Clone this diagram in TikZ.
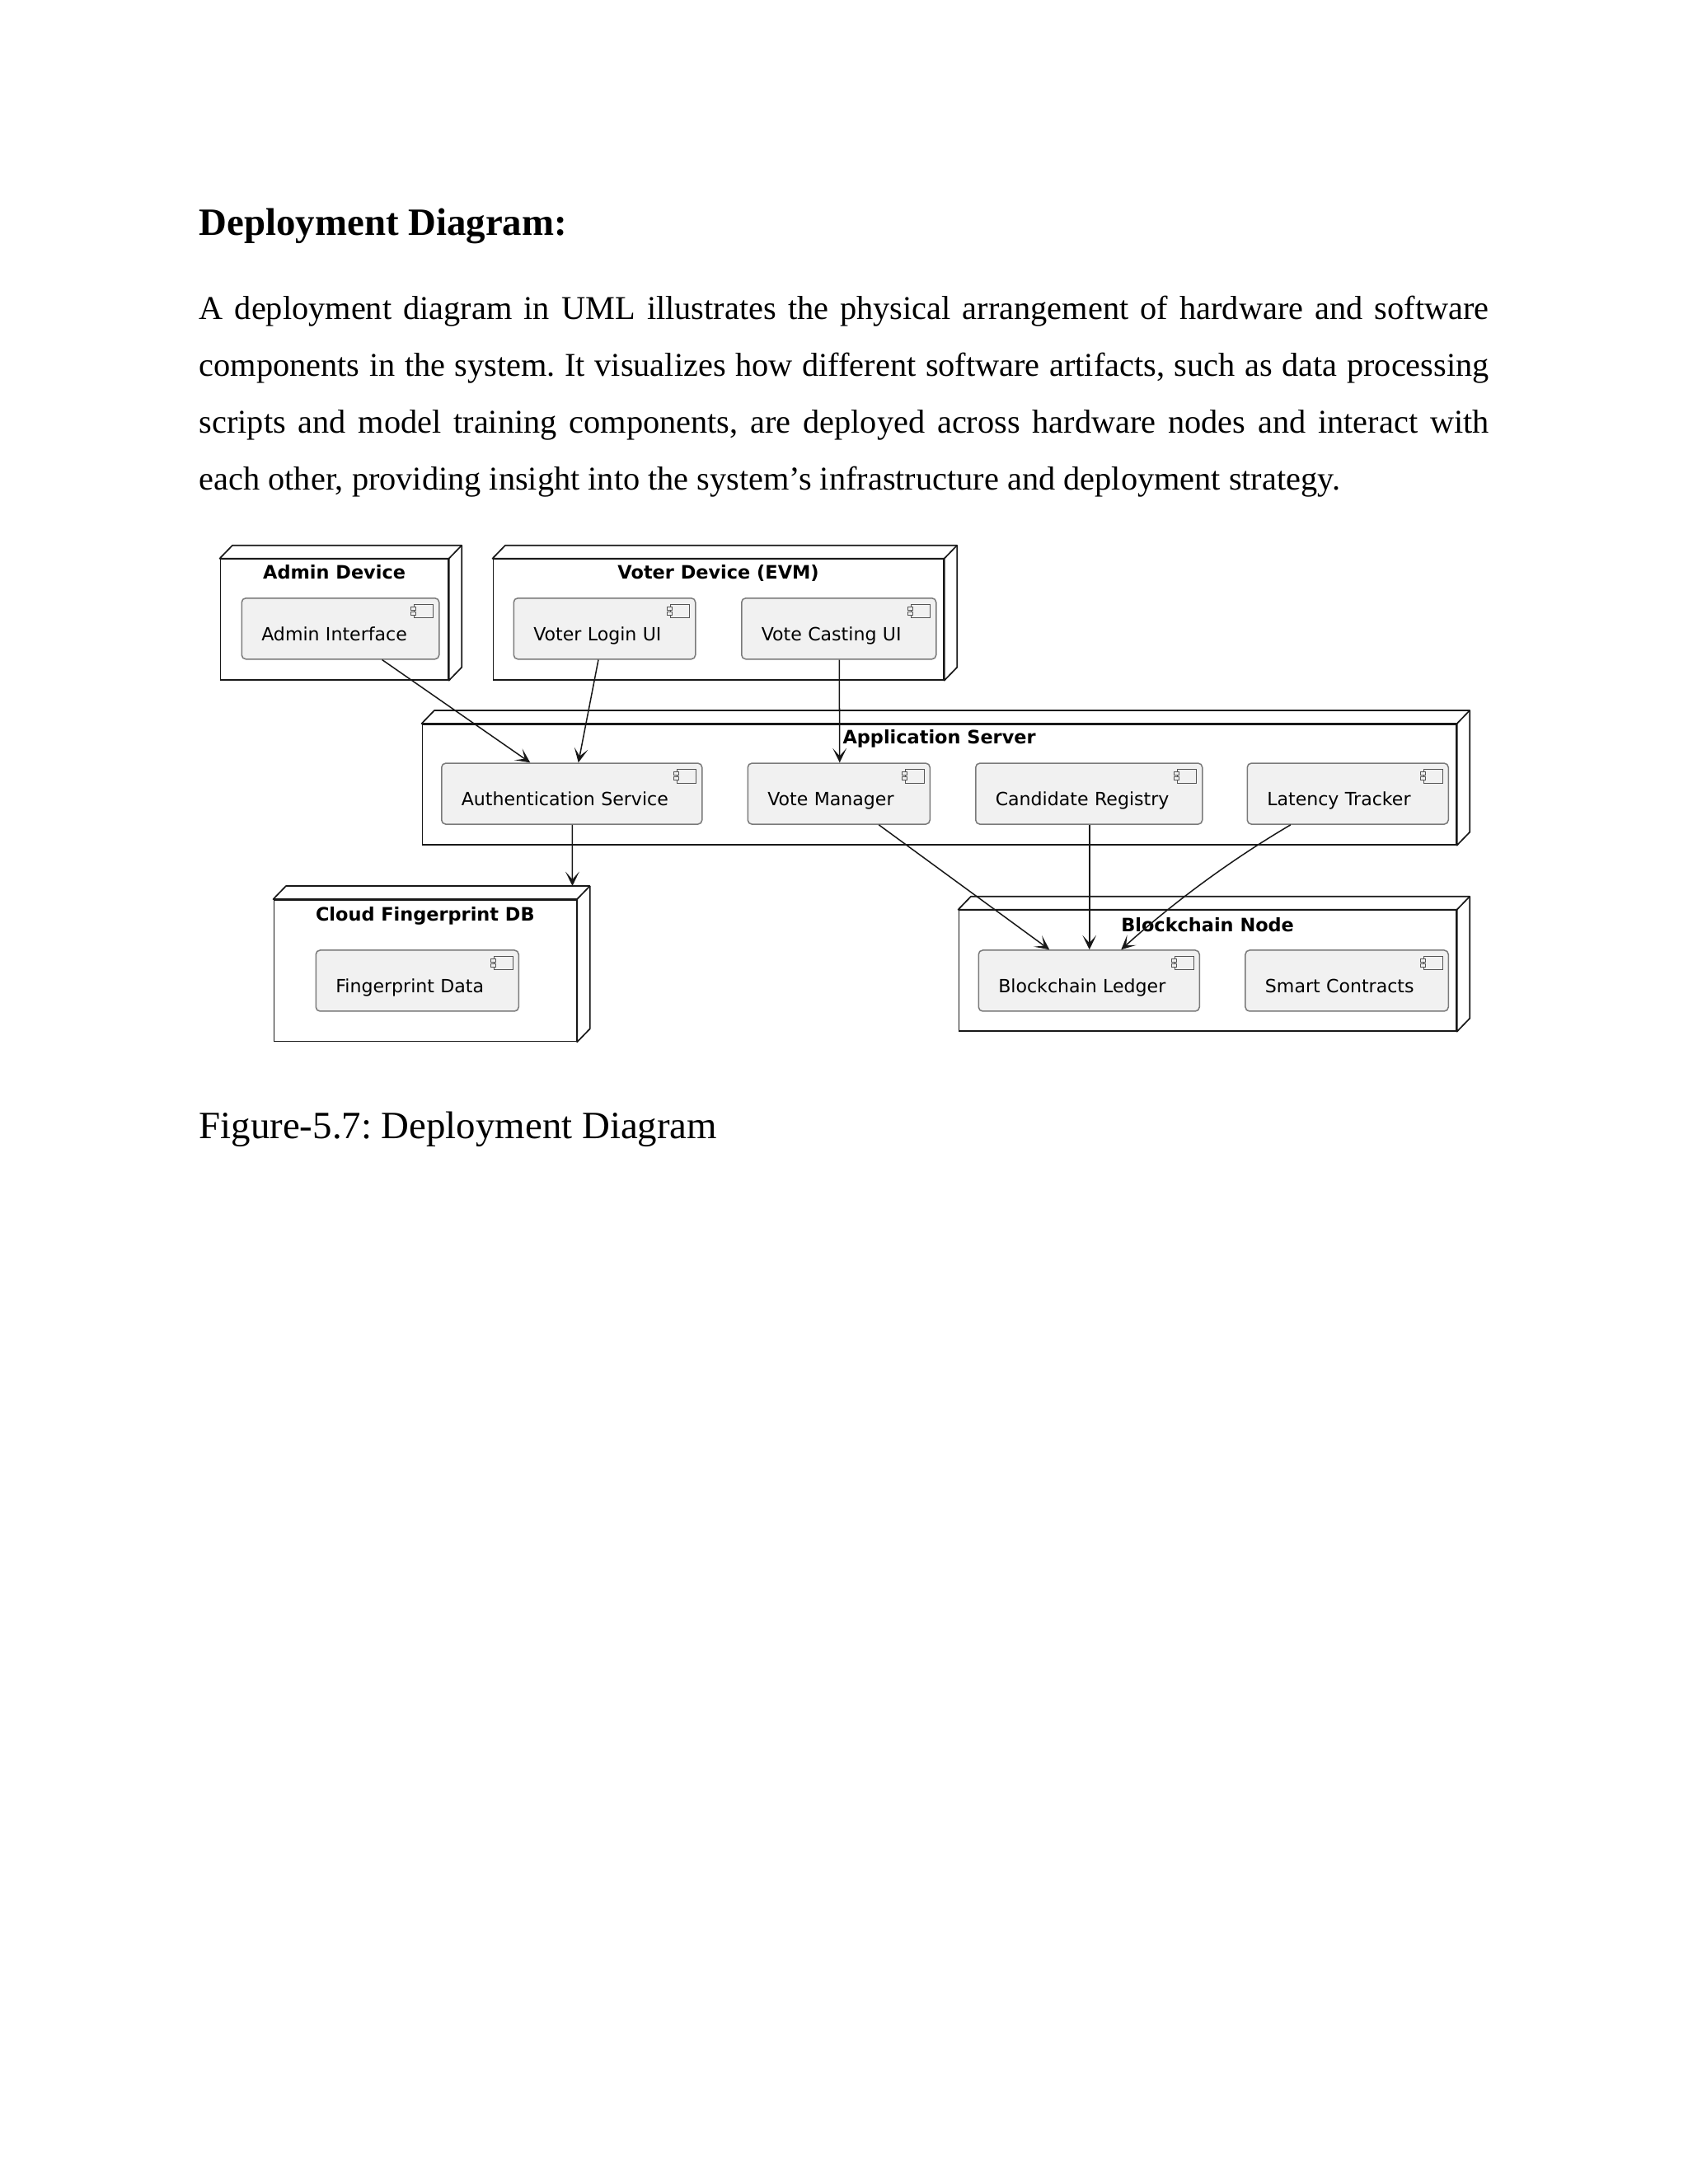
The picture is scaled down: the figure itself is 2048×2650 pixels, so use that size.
\documentclass[tikz,border=0pt]{standalone}
\usepackage{fontspec}
\setmainfont{Liberation Serif}
\newfontfamily\umlfont{DejaVu Sans}
\usetikzlibrary{calc,arrows.meta}
\definecolor{compfill}{HTML}{F1F1F1}
\definecolor{compline}{HTML}{7A7A7A}
\definecolor{iconline}{HTML}{555555}
\definecolor{inkline}{HTML}{181818}
\def\pxu{0.29883pt}
\tikzset{
  dnodebox/.style={draw=inkline,line width=0.5pt,fill=white,anchor=north west,inner xsep=0pt,inner ysep=0pt,font=\umlfont\bfseries\fontsize{6.7}{8}\selectfont},
  dback/.style={draw=inkline,line width=0.5pt,fill=white,line join=round},
  compbox/.style={draw=compline,line width=0.45pt,fill=compfill,rounded corners=1.5pt,anchor=north west,inner xsep=24*\pxu,inner ysep=0pt,align=left,font=\umlfont\fontsize{6.6}{8}\selectfont,text=black},
  iconbody/.style={draw=iconline,line width=0.3pt,fill=compfill},
  conn/.style={draw=inkline,line width=0.45pt,-{Stealth[length=5.2pt,width=5pt,inset=2.8pt]}},
}
% name, x1, y1, x2, y2, title, title baseline offset
\newcommand{\deploynode}[7]{%
  \node[dnodebox,minimum width=(#4-#2)*\pxu,text height=#7*\pxu,text depth=(#5-#3-#7)*\pxu] (#1) at (#2,#3) {#6};
  \draw[dback] (#1.north west) -- ++(15.5,-16) -- ($(#1.north east)+(15.5,-16)$) -- ($(#1.south east)+(15.5,-16)$) -- (#1.south east) -- (#1.north east) -- cycle;
  \draw[dback] (#1.north east) -- ++(15.5,-16);
}
% name, x1, y1, x2, label
\newcommand{\compnode}[5]{%
  \node[compbox,text width=(#4-#2-48)*\pxu,text height=51.7*\pxu,text depth=22.3*\pxu] (#1) at (#2,#3) {#5};
  \path[iconbody] ($(#1.north east)+(-31,8)$) rectangle ($(#1.north east)+(-7.6,24.7)$);
  \path[iconbody] ($(#1.north east)+(-35,11)$) rectangle ($(#1.north east)+(-28.6,15)$);
  \path[iconbody] ($(#1.north east)+(-35,17)$) rectangle ($(#1.north east)+(-28.6,21)$);
}
\begin{document}
\begin{tikzpicture}[x=\pxu,y=-\pxu]
\useasboundingbox (0,0) rectangle (2048,2650);
\fill[white] (0,0) rectangle (2048,2650);
\frenchspacing
\node[anchor=base west,inner sep=0pt,font=\bfseries\fontsize{14}{16}\selectfont] (heading) at (241,285) {Deployment Diagram:};
\node[anchor=north west,inner sep=0pt,text width=1565*\pxu,align=justify,font=\fontsize{12.05}{20.68}\selectfont] (body) at (241,358) {A deployment diagram in UML illustrates the physical arrangement of hardware and software\linebreak components in the system. It visualizes how different software artifacts, such as data processing\linebreak scripts and model training components, are deployed across hardware nodes and interact with\linebreak each other, providing insight into the system’s infrastructure and deployment strategy.};
\node[anchor=base west,inner sep=0pt,font=\fontsize{14}{16}\selectfont] (caption) at (241,1381) {Figure-5.7: Deployment Diagram};

\deploynode{admin}{266.5}{677.7}{543}{824}{Admin Device}{24.3}
\deploynode{voter}{597.5}{677.7}{1144}{824}{Voter Device (EVM)}{24.3}
\deploynode{app}{511.5}{878}{1766}{1024}{Application Server}{24}
\deploynode{cloud}{331.5}{1091}{698.5}{1262.7}{Cloud Fingerprint DB}{26}
\deploynode{chain}{1162.5}{1103.7}{1766}{1250}{Blockchain Node}{26.3}

\compnode{adminui}{292.5}{725}{532}{Admin Interface}
\compnode{loginui}{622.5}{725}{843}{Voter Login UI}
\compnode{castui}{899}{725}{1135}{Vote Casting UI}
\compnode{auth}{535}{925.3}{851}{Authentication Service}
\compnode{votemgr}{906.5}{925.3}{1127.5}{Vote Manager}
\compnode{candidate}{1183}{925.3}{1458}{Candidate Registry}
\compnode{latency}{1512.5}{925.3}{1756.5}{Latency Tracker}
\compnode{fpdata}{382.5}{1152.2}{628.5}{Fingerprint Data}
\compnode{ledger}{1186.5}{1152.2}{1454.5}{Blockchain Ledger}
\compnode{smart}{1510.2}{1152.2}{1756.5}{Smart Contracts}

\draw[conn] ($(adminui.south)+(50.6,0)$) -- ($(auth.north)+(-50.5,0)$);
\draw[conn] ($(loginui.south)+(-7.5,0)$) -- ($(auth.north)+(8,0)$);
\draw[conn] ($(castui.south)+(0.5,0)$) -- ($(votemgr.north)+(1,0)$);
\draw[conn] ($(auth.south)+(0.5,0)$) -- ($(cloud.north)+(178.65,-16)$);
\draw[conn] ($(votemgr.south)+(48.5,0)$) -- ($(ledger.north)+(-48,0)$);
\draw[conn] ($(candidate.south)+(0.5,0)$) -- ($(ledger.north)+(0.5,0)$);
\draw[conn] ($(latency.south)+(-69.4,0)$) .. controls ($(latency.south)+(-142,42.7)$) and ($(ledger.north)+(103,-57.7)$) .. ($(ledger.north)+(39,0)$);
\end{tikzpicture}
\end{document}
